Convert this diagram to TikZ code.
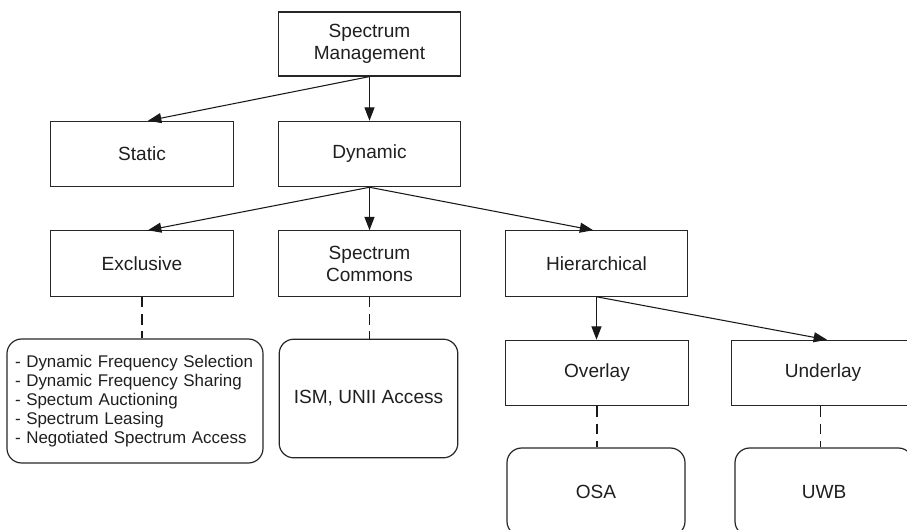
\documentclass[tikz,border=0pt]{standalone}
\usepackage{fontspec}
\setmainfont{Liberation Sans}
\usetikzlibrary{arrows.meta}
\begin{document}
\begin{tikzpicture}[x=0.75pt,y=-0.75pt,
  every node/.style={inner sep=0pt, text=black!88},
  box/.style={draw=black!85, line width=0.9pt, minimum width=137pt, minimum height=49pt,
    align=center, font=\fontsize{14.3}{16.5}\selectfont},
  rbox/.style={draw=black!85, line width=0.9pt, rounded corners=11pt, align=center,
    font=\fontsize{14.3}{16.5}\selectfont},
  listbox/.style={rbox, align=left, font=\fontsize{12.7}{14.3}\selectfont},
  arr/.style={draw=black!90, line width=0.8pt, -{Triangle[length=10pt,width=7.5pt]}},
  link/.style={draw=black!90, line width=0.8pt, dash pattern=on 8pt off 5pt}
]
\useasboundingbox (0,0) rectangle (907,529);
\clip (0,0) rectangle (907,529);

% tree of boxes
\node[box, minimum height=48pt] (sm) at (369.5,44) {Spectrum\\Management};
\node[box] (static)  at (142,154)   {Static};
\node[box] (dynamic) at (369.5,154) {Dynamic};
\node[box] (excl)    at (142,263.5)   {Exclusive};
\node[box] (commons) at (369.5,263.5) {Spectrum\\Commons};
\node[box] (hier)    at (596.5,263.5) {Hierarchical};
\node[box] (overlay) at (597,373)   {Overlay};
\node[box] (underlay) at (823,373)  {Underlay};

% leaf boxes with rounded corners
\node[listbox, minimum width=192pt, minimum height=93pt, text width=180pt] (list) at (135,401)
  {- Dynamic Frequency Selection\\- Dynamic Frequency Sharing\\- Spectum Auctioning\\- Spectrum Leasing\\- Negotiated Spectrum Access};
\node[rbox, minimum width=134pt, minimum height=89pt] (ism) at (368.5,398.5) {ISM, UNII Access};
\node[rbox, minimum width=133.5pt, minimum height=66pt] (osa) at (596,492) {OSA};
\node[rbox, minimum width=133.5pt, minimum height=66pt] (uwb) at (824,492) {UWB};

% arrows
\draw[arr] (sm.south) -- ([xshift=4.5pt]static.north);
\draw[arr] (sm.south) -- (dynamic.north);
\draw[arr] (dynamic.south) -- ([xshift=4.5pt]excl.north);
\draw[arr] (dynamic.south) -- (commons.north);
\draw[arr] (dynamic.south) -- ([xshift=-2.5pt]hier.north);
\draw[arr] (hier.south) -- (hier.south |- overlay.north);
\draw[arr] (hier.south) -- ([xshift=3pt]underlay.north);

% dashed links to the leaves
\draw[link] (excl.south) -- (excl.south |- list.north);
\draw[link] (commons.south) -- (commons.south |- ism.north);
\draw[link] (overlay.south) -- (overlay.south |- osa.north);
\draw[link] ([xshift=-2pt]underlay.south) -- ([xshift=-2pt]underlay.south |- uwb.north);
\end{tikzpicture}
\end{document}
